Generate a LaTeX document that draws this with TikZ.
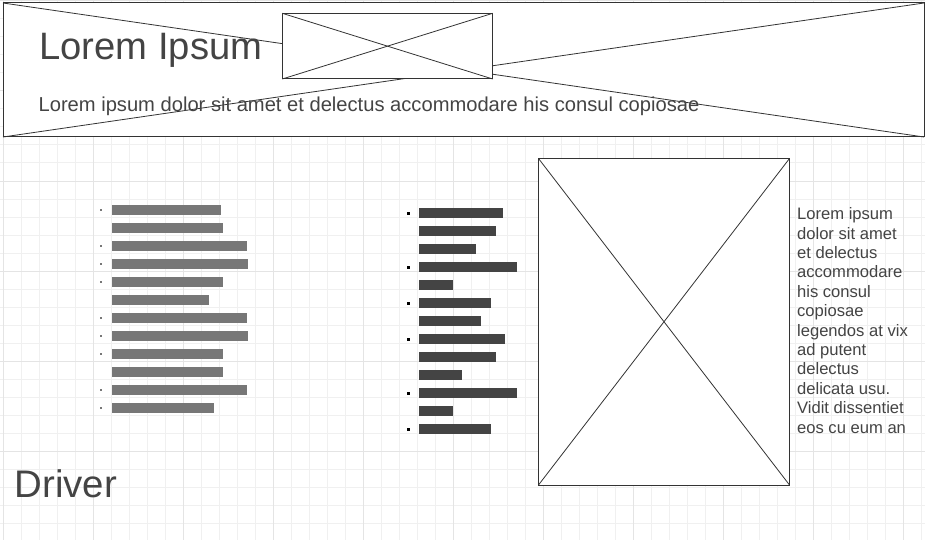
\documentclass[tikz,border=0pt]{standalone}
\usepackage{fontspec}
\setmainfont{Liberation Sans}
\definecolor{gridminor}{HTML}{F0F0F0}
\definecolor{gridmajor}{HTML}{E4E4E4}
\definecolor{ink}{HTML}{333333}
\definecolor{txt}{HTML}{444444}
\definecolor{barlight}{HTML}{777777}
\definecolor{bardark}{HTML}{444444}
\tikzset{
  minorline/.style={draw=gridminor, line width=1pt},
  majorline/.style={draw=gridmajor, line width=1pt},
  framebox/.style={draw=ink, line width=1pt, fill=white},
  crossline/.style={draw=ink, line width=0.8pt},
  barL/.style={fill=barlight},
  barD/.style={fill=bardark},
  dotL/.style={fill=barlight},
  dotD/.style={fill=black},
  txtnode/.style={inner sep=0pt, outer sep=0pt, text=txt},
}
\begin{document}
\begin{tikzpicture}[x=1pt,y=-1pt]
\useasboundingbox (0,0) rectangle (925,540);
\fill[white] (0,0) rectangle (925,540);
% grid
\foreach \i in {0,...,51} \draw[minorline] ({3.5+18*\i},0) -- ({3.5+18*\i},540);
\foreach \j in {0,...,29} \draw[minorline] (0,{1+18*\j}) -- (925,{1+18*\j});
\foreach \i in {0,...,10} \draw[majorline] ({3.5+90*\i},0) -- ({3.5+90*\i},540);
\foreach \j in {0,...,5} \draw[majorline] (0,{1+90*\j}) -- (925,{1+90*\j});
% header
\draw[framebox] (3,3) rectangle (924,137);
\coordinate (htl) at (3,3);
\coordinate (hbr) at (924,137);
\coordinate (hbl) at (3,137);
\coordinate (htr) at (924,3);
\draw[crossline] (htl) -- (hbr);
\draw[crossline] (hbl) -- (htr);
\node[txtnode, anchor=base west, font=\fontsize{38.2}{46}\selectfont] (title) at (39.5,59.5) {Lorem Ipsum};
\node[txtnode, anchor=base west, font=\fontsize{20.15}{24}\selectfont] (caption) at (38.6,112) {Lorem ipsum dolor sit amet et delectus accommodare his consul copiosae};
% small image in header
\draw[framebox] (282.3,13.3) rectangle (492.7,79);
\coordinate (stl) at (282.3,13.3);
\coordinate (sbr) at (492.7,79);
\coordinate (sbl) at (282.3,79);
\coordinate (str) at (492.7,13.3);
\draw[crossline] (stl) -- (sbr);
\draw[crossline] (sbl) -- (str);
% left list
\foreach \r/\e/\b in {1/221/1,2/223/0,3/247/1,4/248/1,5/223/1,6/209/0,7/247/1,8/248/1,9/223/1,10/223/0,11/247/1,12/214/1}{
  \fill[barL] (112,{205+18*(\r-1)}) rectangle (\e,{215+18*(\r-1)});
  \ifnum\b=1 \fill[dotL] (100.1,{209.2+18*(\r-1)}) rectangle (102.3,{211.4+18*(\r-1)}); \fi
}
% right list
\foreach \r/\e/\b in {1/503/1,2/496/0,3/476/0,4/517/1,5/453/0,6/491/1,7/481/0,8/505/1,9/496/0,10/462/0,11/517/1,12/453/0,13/491/1}{
  \fill[barD] (419,{208.3+18*(\r-1)}) rectangle (\e,{217.8+18*(\r-1)});
  \ifnum\b=1 \fill[dotD] (407,{211.7+18*(\r-1)}) rectangle (410,{214.7+18*(\r-1)}); \fi
}
% big image
\draw[framebox] (538.5,158.5) rectangle (789.5,485);
\coordinate (btl) at (538.5,158.5);
\coordinate (bbr) at (789.5,485);
\coordinate (bbl) at (538.5,485);
\coordinate (btr) at (789.5,158.5);
\draw[crossline] (btl) -- (bbr);
\draw[crossline] (bbl) -- (btr);
% side text
\node[txtnode, anchor=north west, align=left, font=\fontsize{16.6}{19.4}\selectfont] (side) at (797.1,207.7) {Lorem ipsum\\dolor sit amet\\et delectus\\accommodare\\his consul\\copiosae\\legendos at vix\\ad putent\\delectus\\delicata usu.\\Vidit dissentiet\\eos cu eum an};
% driver
\node[txtnode, anchor=base west, font=\fontsize{38.4}{46}\selectfont] (driver) at (14.5,497.3) {Driver};
\end{tikzpicture}
\end{document}
